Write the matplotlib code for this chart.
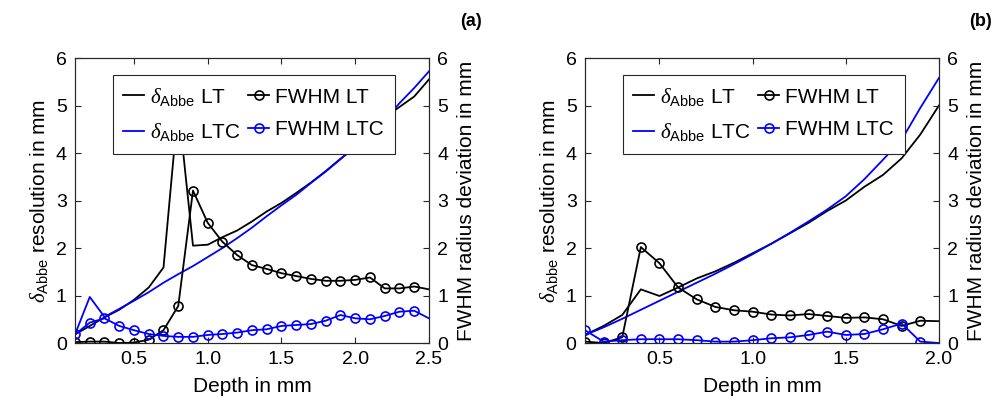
import numpy as np
import matplotlib
matplotlib.use("Agg")
import matplotlib.pyplot as plt
from matplotlib.ticker import FormatStrFormatter

matplotlib.rcParams['font.family'] = ['Liberation Sans', 'DejaVu Sans']
matplotlib.rcParams['mathtext.fontset'] = 'custom'
matplotlib.rcParams['mathtext.rm'] = 'Liberation Sans'
matplotlib.rcParams['mathtext.it'] = 'Liberation Serif:italic'

# panel (a): depth 0.1 ... 2.5 mm
depth_a = np.round(np.arange(0.1, 2.51, 0.1), 2)
abbe_lt_a = [0.18, 0.36, 0.54, 0.70, 0.91, 1.17, 1.59, 5.0, 2.05, 2.07, 2.23, 2.37, 2.56,
             2.77, 2.95, 3.16, 3.38, 3.62, 3.88, 4.12, 4.40, 4.75, 4.97, 5.19, 5.55]
abbe_ltc_a = [0.18, 0.97, 0.55, 0.72, 0.89, 1.07, 1.27, 1.45, 1.62, 1.81, 2.0, 2.21, 2.43,
              2.67, 2.90, 3.12, 3.37, 3.61, 3.87, 4.14, 4.42, 4.69, 5.05, 5.37, 5.72]
fwhm_lt_a = [0.02, 0.03, 0.03, 0.0, 0.01, 0.07, 0.27, 0.78, 3.21, 2.53, 2.13, 1.85, 1.64,
             1.56, 1.47, 1.41, 1.35, 1.31, 1.31, 1.33, 1.38, 1.15, 1.15, 1.19, 1.13]
fwhm_ltc_a = [0.18, 0.43, 0.52, 0.36, 0.27, 0.19, 0.15, 0.13, 0.13, 0.17, 0.19, 0.22, 0.27,
              0.29, 0.36, 0.38, 0.40, 0.47, 0.59, 0.52, 0.50, 0.57, 0.66, 0.68, 0.52]

# panel (b): depth 0.1 ... 2.0 mm
depth_b = np.round(np.arange(0.1, 2.01, 0.1), 2)
abbe_lt_b = [0.17, 0.36, 0.59, 1.13, 0.99, 1.17, 1.36, 1.51, 1.69, 1.89, 2.09, 2.31,
             2.53, 2.78, 3.0, 3.29, 3.54, 3.89, 4.39, 5.0]
abbe_ltc_b = [0.17, 0.33, 0.51, 0.70, 0.89, 1.08, 1.27, 1.46, 1.66, 1.87, 2.09, 2.32,
              2.56, 2.81, 3.09, 3.45, 3.86, 4.28, 4.95, 5.58]
fwhm_lt_b = [0.03, 0.0, 0.12, 2.02, 1.68, 1.17, 0.92, 0.76, 0.69, 0.66, 0.60, 0.58,
             0.61, 0.57, 0.53, 0.54, 0.50, 0.36, 0.47, 0.46]
fwhm_ltc_b = [0.27, 0.03, 0.06, 0.08, 0.08, 0.08, 0.06, 0.03, 0.03, 0.06, 0.10, 0.12,
              0.17, 0.24, 0.17, 0.19, 0.29, 0.41, 0.03, 0.0]

BLUE = '#0000ff'
AXC = '#262626'


def draw_panel(rect, depth, abbe_lt, abbe_ltc, fwhm_lt, fwhm_ltc, xmax, xticks, tag):
    ax = fig.add_axes(rect)
    ax2 = ax.twinx()

    h1, = ax.plot(depth, abbe_lt, color='k', lw=1.3)
    h2, = ax.plot(depth, abbe_ltc, color=BLUE, lw=1.3)
    # last point is on the axis edge, no marker there
    mk = slice(0, len(depth) - 1)
    h3, = ax2.plot(depth, fwhm_lt, color='k', lw=1.3, marker='o', ms=6.5,
                   mfc='none', mew=1.2, markevery=mk)
    h4, = ax2.plot(depth, fwhm_ltc, color=BLUE, lw=1.3, marker='o', ms=6.5,
                   mfc='none', mew=1.2, markevery=mk)

    for a in (ax, ax2):
        a.set_xlim(0.1, xmax)
        a.set_ylim(0, 6)
        a.set_yticks(range(0, 7))
        for s in a.spines.values():
            s.set_color(AXC)
            s.set_linewidth(0.8)
    ax.set_xticks(xticks)
    ax.xaxis.set_major_formatter(FormatStrFormatter('%.1f'))
    ax.tick_params(direction='in', length=4, width=0.8, colors=AXC, labelsize=14,
                   top=True, labelcolor='k', pad=6)
    ax2.tick_params(direction='in', length=4, width=0.8, colors=AXC, labelsize=14,
                    labelcolor='k', pad=6)

    ax.set_xlabel('Depth in mm', fontsize=15, labelpad=6)
    ax.set_ylabel(r'$\delta_{\mathrm{Abbe}}$ resolution in mm', fontsize=15, labelpad=4)
    ax2.set_ylabel('FWHM radius deviation in mm', fontsize=15, labelpad=6)

    leg = ax2.legend([h1, h2, h3, h4],
                     [r'$\delta_{\mathrm{Abbe}}$ LT', r'$\delta_{\mathrm{Abbe}}$ LTC',
                      'FWHM LT', 'FWHM LTC'],
                     ncol=2, loc='upper left', bbox_to_anchor=(0.107, 0.94),
                     fontsize=15, frameon=True, fancybox=False, framealpha=1,
                     edgecolor=AXC, handlelength=1.0, handletextpad=0.3,
                     columnspacing=0.35, borderpad=0.5, labelspacing=0.65,
                     borderaxespad=0)
    leg.get_frame().set_linewidth(0.8)

    fig.text(rect[0] + rect[2] + 0.053, 0.947, tag, fontsize=13, fontweight='bold',
             ha='right', va='center')


fig = plt.figure(figsize=(9.96, 4.05), dpi=100)
draw_panel([0.0753, 0.153, 0.3554, 0.7037], depth_a, abbe_lt_a, abbe_ltc_a,
           fwhm_lt_a, fwhm_ltc_a, 2.5, [0.5, 1.0, 1.5, 2.0, 2.5], '(a)')
draw_panel([0.5873, 0.153, 0.3554, 0.7037], depth_b, abbe_lt_b, abbe_ltc_b,
           fwhm_lt_b, fwhm_ltc_b, 2.0, [0.5, 1.0, 1.5, 2.0], '(b)')

fig.savefig('out.png', dpi=100)
plt.close(fig)
